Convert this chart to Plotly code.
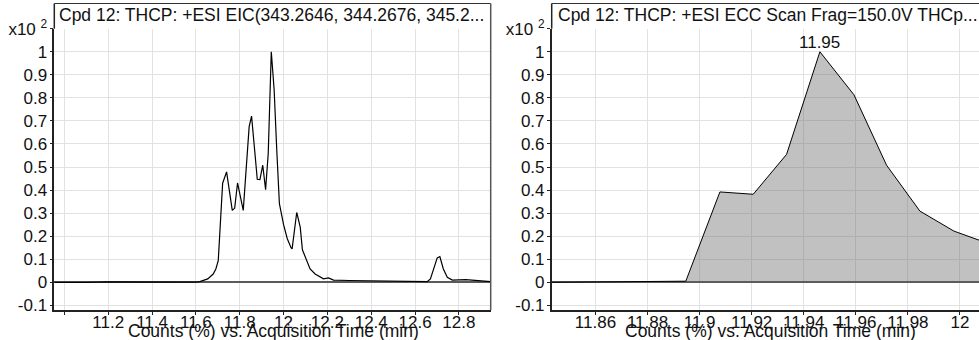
import plotly.graph_objects as go

# ---- data (values in units of x10^2 counts %) ----
eic_time = [10.954, 11.0, 11.1, 11.2, 11.3, 11.4, 11.5, 11.6, 11.618, 11.654, 11.679, 11.691, 11.702,
            11.722, 11.740, 11.766, 11.777, 11.790, 11.816, 11.843, 11.854, 11.880, 11.892, 11.905,
            11.918, 11.930, 11.944, 11.957, 11.969, 11.981, 12.0, 12.017, 12.034, 12.039, 12.060,
            12.076, 12.086, 12.106, 12.121, 12.144, 12.182, 12.205, 12.228, 12.3, 12.4, 12.5, 12.6,
            12.655, 12.670, 12.686, 12.701, 12.713, 12.729, 12.747, 12.770, 12.831, 12.9, 12.945]
eic_value = [0.0, 0.001, 0.0, 0.002, 0.001, 0.0, 0.001, 0.001, 0.003, 0.015, 0.036, 0.058, 0.094,
             0.43, 0.479, 0.312, 0.322, 0.431, 0.312, 0.675, 0.721, 0.447, 0.446, 0.508,
             0.402, 0.559, 1.0, 0.835, 0.573, 0.341, 0.25, 0.189, 0.15, 0.145, 0.303,
             0.239, 0.141, 0.094, 0.058, 0.036, 0.015, 0.019, 0.01, 0.008, 0.007, 0.006, 0.004,
             0.003, 0.015, 0.065, 0.106, 0.112, 0.058, 0.022, 0.01, 0.012, 0.007, 0.003]

ecc_time = [11.843, 11.856, 11.869, 11.882, 11.8947, 11.9078, 11.9206, 11.9334, 11.9462,
            11.9593, 11.9718, 11.9846, 11.9977, 12.0105]
ecc_value = [0.0, 0.001, 0.002, 0.003, 0.005, 0.392, 0.382, 0.555, 1.0,
             0.813, 0.508, 0.309, 0.222, 0.17]

left_ticks = [11.0, 11.2, 11.4, 11.6, 11.8, 12.0, 12.2, 12.4, 12.6, 12.8]
left_ticktext = ["", "11.2", "11.4", "11.6", "11.8", "12", "12.2", "12.4", "12.6", "12.8"]
right_ticks = [11.86, 11.88, 11.90, 11.92, 11.94, 11.96, 11.98, 12.00]
right_ticktext = ["11.86", "11.88", "11.9", "11.92", "11.94", "11.96", "11.98", "12"]
y_ticks = [-0.1, 0, 0.1, 0.2, 0.3, 0.4, 0.5, 0.6, 0.7, 0.8, 0.9, 1.0, 1.1]
y_ticktext = ["-0.1", "0", "0.1", "0.2", "0.3", "0.4", "0.5", "0.6", "0.7", "0.8", "0.9", "1",
              "x10 <sup>2</sup>"]

left_title = "Cpd 12: THCP: +ESI EIC(343.2646, 344.2676, 345.2..."
right_title = "Cpd 12: THCP: +ESI ECC Scan Frag=150.0V THCp..."
x_title = "Counts (%) vs. Acquisition Time (min)"
peak_label = "11.95"

# ---- layout geometry (pixels) ----
W, H = 979, 340
FONT = "Liberation Sans, Arial, sans-serif"


def px(x):
    return x / W


def py(y):
    return (H - y) / H


L0, L1 = 54.3, 490.7
R0, R1 = 551.7, 979
YB, YT, FT = 310, 28.7, 3.5

fig = go.Figure()
fig.add_trace(go.Scatter(x=eic_time, y=eic_value, mode="lines",
                         line=dict(color="black", width=1.2), xaxis="x", yaxis="y",
                         showlegend=False, hoverinfo="skip"))
fig.add_trace(go.Scatter(x=ecc_time, y=ecc_value, mode="lines", fill="tozeroy",
                         fillcolor="rgba(100,100,100,0.4)",
                         line=dict(color="black", width=1), xaxis="x2", yaxis="y2",
                         showlegend=False, hoverinfo="skip"))

common_x = dict(showgrid=True, gridcolor="#e2e2e2", gridwidth=1, showline=True,
                linecolor="#222", linewidth=2, ticks="outside", ticklen=3, tickcolor="#222",
                tickfont=dict(family=FONT, size=17, color="#111"), zeroline=False,
                tickmode="array", automargin=False, ticklabelstandoff=-7)
common_y = dict(showgrid=True, gridcolor="#e2e2e2", gridwidth=1, showline=True,
                linecolor="#222", linewidth=1.5, ticks="outside", ticklen=3, tickcolor="#222",
                tickfont=dict(family=FONT, size=17, color="#111"), zeroline=True,
                zerolinecolor="#5a5a5a", zerolinewidth=2, range=[-0.12, 1.1],
                tickmode="array", tickvals=y_ticks, ticktext=y_ticktext, automargin=False,
                ticklabelstandoff=-1)

fig.update_layout(
    width=W, height=H, autosize=False,
    margin=dict(l=0, r=0, t=0, b=0, pad=0, autoexpand=False),
    paper_bgcolor="white", plot_bgcolor="white",
    xaxis=dict(common_x, domain=[px(L0), px(L1)], range=[10.954, 12.945],
               tickvals=left_ticks, ticktext=left_ticktext, anchor="y"),
    yaxis=dict(common_y, domain=[py(YB), py(YT)], anchor="x"),
    xaxis2=dict(common_x, domain=[px(R0), px(R1)], range=[11.8432, 12.0073],
                tickvals=right_ticks, ticktext=right_ticktext, anchor="y2"),
    yaxis2=dict(common_y, domain=[py(YB), py(YT)], anchor="x2"),
)

shapes = [
    # left panel frame
    dict(type="line", xref="paper", yref="paper", x0=px(L0), x1=px(L0), y0=py(YT), y1=py(FT),
         line=dict(color="#222", width=1.5)),
    dict(type="line", xref="paper", yref="paper", x0=px(L0), x1=px(L1), y0=py(FT), y1=py(FT),
         line=dict(color="#333", width=1)),
    dict(type="line", xref="paper", yref="paper", x0=px(L1), x1=px(L1), y0=py(FT), y1=py(YB),
         line=dict(color="#555", width=1.5)),
    # right panel frame
    dict(type="line", xref="paper", yref="paper", x0=px(R0), x1=px(R0), y0=py(YT), y1=py(FT),
         line=dict(color="#222", width=1.5)),
    dict(type="line", xref="paper", yref="paper", x0=px(R0), x1=1, y0=py(FT), y1=py(FT),
         line=dict(color="#333", width=1)),
]
fig.update_layout(shapes=shapes)

annotations = [
    dict(text=left_title, xref="paper", yref="paper", x=px(57), y=py(15), xanchor="left",
         yanchor="middle", showarrow=False, font=dict(family=FONT, size=17.5, color="#111")),
    dict(text=right_title, xref="paper", yref="paper", x=px(555.5), y=py(15), xanchor="left",
         yanchor="middle", showarrow=False, font=dict(family=FONT, size=17.5, color="#111")),
    dict(text=x_title, xref="paper", yref="paper", x=px(273), y=py(331), xanchor="center",
         yanchor="middle", showarrow=False, font=dict(family=FONT, size=17.5, color="#111")),
    dict(text=x_title, xref="paper", yref="paper", x=px(770), y=py(331), xanchor="center",
         yanchor="middle", showarrow=False, font=dict(family=FONT, size=17.5, color="#111")),
    dict(text=peak_label, xref="x2", yref="y2", x=ecc_time[8], y=ecc_value[8], yshift=9,
         xanchor="center", yanchor="middle", showarrow=False,
         font=dict(family=FONT, size=17, color="#111")),
]
fig.update_layout(annotations=annotations)

post = ("document.body.style.margin='0';document.body.style.padding='0';"
        "document.body.style.overflow='hidden';"
        "var gd=document.getElementById('{plot_id}');"
        "Plotly.relayout(gd,{width:979,height:340});")

fig.write_html("out.html", post_script=post,
               config={"responsive": False, "displayModeBar": False})
